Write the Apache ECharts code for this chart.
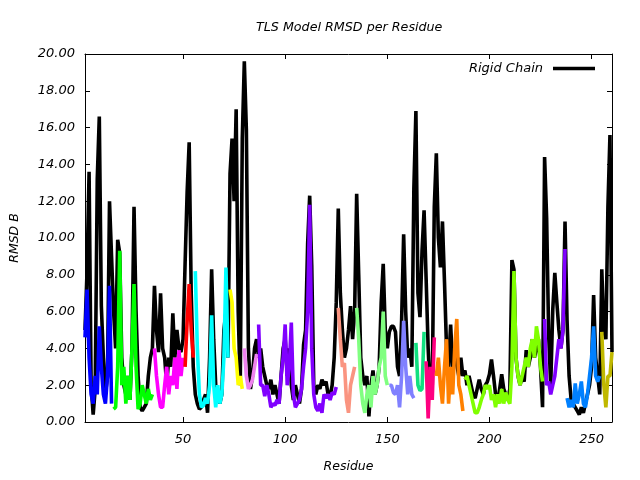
<!DOCTYPE html>
<html><head><meta charset="utf-8">
<script src="https://cdn.jsdelivr.net/npm/echarts@6/dist/echarts.min.js"></script>
<style>html,body{margin:0;padding:0;background:#fff}#c{width:640px;height:480px}</style>
</head><body><div id="c"></div>
<script>
const residueStart = 2;
const rigidChain = [
  5.0, 8.2, 13.6, 2.0, 0.4, 1.8, 13.2, 16.6, 6.3,
  3.5, 1.5, 2.5, 12.0, 9.0, 6.0, 4.0, 9.9, 9.2, 3.5,
  2.0, 1.5, 2.5, 1.2, 4.0, 11.7, 6.0, 2.5, 0.8, 0.6,
  0.8, 1.0, 2.5, 3.5, 4.0, 7.4, 5.0, 3.8, 7.0, 4.0,
  3.5, 2.0, 3.5, 3.0, 5.9, 3.5, 5.0, 4.0, 3.8, 4.5,
  8.6, 12.5, 15.2, 7.0, 3.0, 1.5, 1.0, 0.7, 0.8, 1.2,
  1.5, 0.5, 3.5, 8.3, 4.5, 2.0, 1.5, 1.0, 1.5, 5.0,
  6.0, 3.5, 13.5, 15.4, 12.0, 17.0, 6.0, 2.0, 15.4, 19.6,
  15.9, 4.0, 1.8, 2.5, 4.0, 4.5, 3.5, 4.0, 3.0, 2.5,
  2.0, 1.8, 2.3, 1.5, 2.0, 1.5, 1.0, 2.5, 4.0, 4.5,
  2.5, 4.0, 2.0, 1.2, 2.0, 1.5, 1.0, 1.8, 4.2, 5.0,
  9.7, 12.3, 8.5, 2.0, 1.5, 2.0, 1.8, 2.3, 2.0, 2.2,
  1.5, 1.4, 2.0, 3.5, 6.5, 11.6, 7.0, 5.0, 3.5, 4.0,
  5.0, 6.3, 4.5, 6.0, 12.4, 8.0, 3.5, 2.5, 2.0, 2.5,
  0.3, 2.0, 2.8, 1.5, 2.0, 3.0, 6.5, 8.6, 5.0, 4.0,
  4.9, 5.2, 5.2, 4.9, 3.0, 2.5, 5.5, 10.2, 6.0, 3.5,
  4.0, 3.0, 12.7, 16.9, 7.0, 5.7, 9.3, 11.5, 7.8, 4.0,
  1.5, 2.0, 11.7, 14.6, 10.0, 8.4, 10.9, 7.6, 4.0, 3.0,
  5.3, 3.0, 4.0, 3.1, 2.5, 3.5, 2.5, 2.8, 2.0, 2.5,
  2.0, 1.5, 1.3, 1.8, 2.3, 1.8, 1.5, 2.0, 2.2, 2.6,
  3.4, 2.5, 1.5, 1.0, 1.8, 2.6, 1.8, 1.5, 1.2, 1.8,
  8.8, 8.3, 3.5, 2.5, 2.0, 2.5, 2.2, 3.9, 3.0, 3.5,
  4.5, 3.5, 4.0, 4.5, 3.0, 0.8, 14.4, 11.1, 4.7, 2.0,
  6.1, 8.1, 6.5, 5.0, 4.0, 5.0, 10.9, 5.5, 2.5, 1.2,
  1.0, 0.8, 0.6, 0.4, 0.8, 0.5, 1.0, 1.5, 2.0, 3.0,
  6.9, 3.5, 2.5, 1.5, 8.3, 5.0, 4.5, 11.7, 15.6, 3.8
];

// TLS groups: first residue of each group, colour, values
const groupStarts = [2, 16, 36, 51, 56, 73, 80, 87, 126, 135, 151, 164, 169, 174, 188, 227, 238, 255];
const groupColors = ['#0000ff', '#00ff00', '#ff00ff', '#ff0000', '#00ffff', '#ffff00', '#ee82ee', '#8000ff',
  '#fa9480', '#80ff80', '#8080ff', '#10e080', '#ff0080', '#ff8000', '#80ff00', '#8000ff', '#0080ff', '#c0b800'];
const group1 = [4.6, 7.2, 3.5, 1.5, 1.0, 2.5, 1.5, 5.2, 3.0, 1.5, 1.0, 2.5, 7.4, 1.0];
const group2 = [0.7, 0.8, 3.0, 9.3, 2.0, 3.0, 1.0, 2.5, 1.2, 4.0, 7.5, 3.0, 0.7, 1.0, 2.0, 1.5, 1.0, 1.8, 1.2, 1.5];
const group3 = [4.0, 2.5, 1.5, 0.8, 0.8, 2.0, 3.0, 1.5, 2.5, 2.0, 3.5, 1.8, 3.9, 2.5, 3.5];
const group4 = [3.0, 5.5, 7.5, 5.0, 3.5];
const group5 = [8.2, 4.0, 1.5, 0.8, 0.9, 1.3, 1.0, 2.0, 5.8, 2.0, 0.8, 2.0, 1.0, 1.5, 3.5, 8.4, 3.5];
const group6 = [7.2, 6.5, 4.0, 3.5, 2.0, 2.5, 1.8];
const group7 = [4.0, 2.5, 1.8, 2.0, 2.3, 3.0, 3.7];
const group8 = [5.3, 2.0, 2.0, 1.4, 2.0, 1.5, 0.8, 1.0, 0.9, 1.2, 1.0, 2.5, 3.5, 5.3, 2.0, 3.0, 5.4, 1.5, 0.8, 1.0,
  1.2, 1.8, 3.0, 4.0, 6.0, 11.8, 4.0, 1.5, 0.8, 0.6, 1.0, 0.5, 1.5, 1.3, 1.5, 1.2, 1.6, 1.5, 1.9];
const group9 = [6.2, 4.5, 3.0, 3.2, 1.2, 0.5, 2.0, 2.5, 3.0];
const group10 = [6.2, 4.5, 2.0, 1.0, 0.5, 1.5, 2.0, 0.8, 2.5, 1.5, 2.0, 3.0, 3.5, 6.0, 2.5, 2.0];
const group11 = [2.0, 2.0, 1.6, 1.5, 2.0, 0.8, 2.5, 5.5, 3.0, 1.5, 2.5, 1.5, 1.3];
const group12 = [4.3, 2.0, 1.7, 1.8, 4.9];
const group13 = [3.3, 0.2, 3.0, 1.2, 4.6];
const group14 = [2.5, 3.5, 2.0, 1.0, 3.0, 4.5, 1.0, 3.0, 1.5, 4.0, 5.6, 2.0, 1.5, 0.6];
const group15 = [2.3, 2.5, 2.0, 1.5, 1.0, 0.5, 0.5, 0.8, 1.2, 1.5, 2.0, 1.8, 2.0, 1.2, 1.5, 0.8, 1.5, 1.0, 1.8, 1.0,
  1.6, 1.2, 1.0, 3.0, 8.2, 3.5, 2.5, 2.0, 2.5, 3.0, 3.5, 3.0, 4.0, 4.5, 3.5, 5.2, 4.5, 3.0, 2.2];
const group16 = [5.6, 2.0, 2.2, 1.5, 2.0, 2.5, 3.5, 4.5, 4.0, 5.0, 9.4];
const group17 = [1.3, 0.8, 1.2, 0.8, 2.1, 1.0, 1.5, 2.2, 1.0, 0.8, 1.5, 2.5, 3.5, 5.2, 2.5, 2.2, 2.5];
const group18 = [4.9, 2.0, 0.8, 2.5, 2.5, 3.8];
const groups = [group1, group2, group3, group4, group5, group6, group7, group8, group9,
  group10, group11, group12, group13, group14, group15, group16, group17, group18];

const xTicks = [50, 100, 150, 200, 250];
const xRange = [2, 260];
const yRange = [0, 20];
const yStep = 2;

const FONT = 'DejaVu Sans';
const txt = { fontFamily: FONT, fontStyle: 'italic', fontSize: 12.5, color: '#000' };
const tickTxt = Object.assign({}, txt, { fontSize: 13 });
const toPoints = (start, vals) => vals.map((v, i) => [start + i, v]);

const axisLineStyle = { show: true, onZero: false, lineStyle: { color: '#000', width: 1 } };
const tickStyle = { show: true, inside: true, length: 5, lineStyle: { color: '#000', width: 1 } };
const LW = 3.6;

const series = [{
  name: 'Rigid Chain', type: 'line', data: toPoints(residueStart, rigidChain),
  symbol: 'none', showSymbol: false, color: '#000',
  lineStyle: { color: '#000', width: LW }, silent: true, z: 2
}];
groups.forEach((g, i) => {
  series.push({
    name: 'TLS group ' + (i + 1), type: 'line', data: toPoints(groupStarts[i], g),
    symbol: 'none', showSymbol: false, color: groupColors[i],
    lineStyle: { color: groupColors[i], width: LW }, silent: true, z: 3
  });
});

const chart = echarts.init(document.getElementById('c'), null, { renderer: 'canvas' });
chart.setOption({
  animation: false,
  backgroundColor: '#fff',
  title: { text: 'TLS Model RMSD per Residue', left: 251, top: 16,
    textStyle: Object.assign({}, txt, { fontWeight: 'normal', fontSize: 12.7 }) },
  legend: {
    data: [{ name: 'Rigid Chain', icon: 'rect' }], right: 40, top: 57, align: 'right',
    itemWidth: 42, itemHeight: 3.5, textStyle: Object.assign({}, txt, { fontSize: 13, padding: [0, 5, 0, 0] })
  },
  grid: { left: 85, top: 54, right: 28, bottom: 58, containLabel: false, outerBoundsMode: 'none' },
  xAxis: [{
    type: 'value', min: xRange[0], max: xRange[1], position: 'bottom',
    axisLine: axisLineStyle, axisTick: Object.assign({ customValues: xTicks }, tickStyle),
    axisLabel: Object.assign({ customValues: xTicks, margin: 11 }, tickTxt),
    splitLine: { show: false },
    name: 'Residue', nameLocation: 'middle', nameGap: 38, nameTextStyle: txt
  }, {
    type: 'value', min: xRange[0], max: xRange[1], position: 'top',
    axisLine: axisLineStyle, axisTick: Object.assign({ customValues: xTicks }, tickStyle),
    axisLabel: { show: false }, splitLine: { show: false }
  }],
  yAxis: [{
    type: 'value', min: yRange[0], max: yRange[1], interval: yStep, position: 'left',
    axisLine: axisLineStyle, axisTick: tickStyle,
    axisLabel: Object.assign({ formatter: v => v.toFixed(2), margin: 10 }, tickTxt),
    splitLine: { show: false },
    name: 'RMSD B', nameLocation: 'middle', nameGap: 64, nameTextStyle: txt
  }, {
    type: 'value', min: yRange[0], max: yRange[1], interval: yStep, position: 'right',
    axisLine: axisLineStyle, axisTick: tickStyle,
    axisLabel: { show: false }, splitLine: { show: false }
  }],
  series: series
});
</script>
</body></html>
